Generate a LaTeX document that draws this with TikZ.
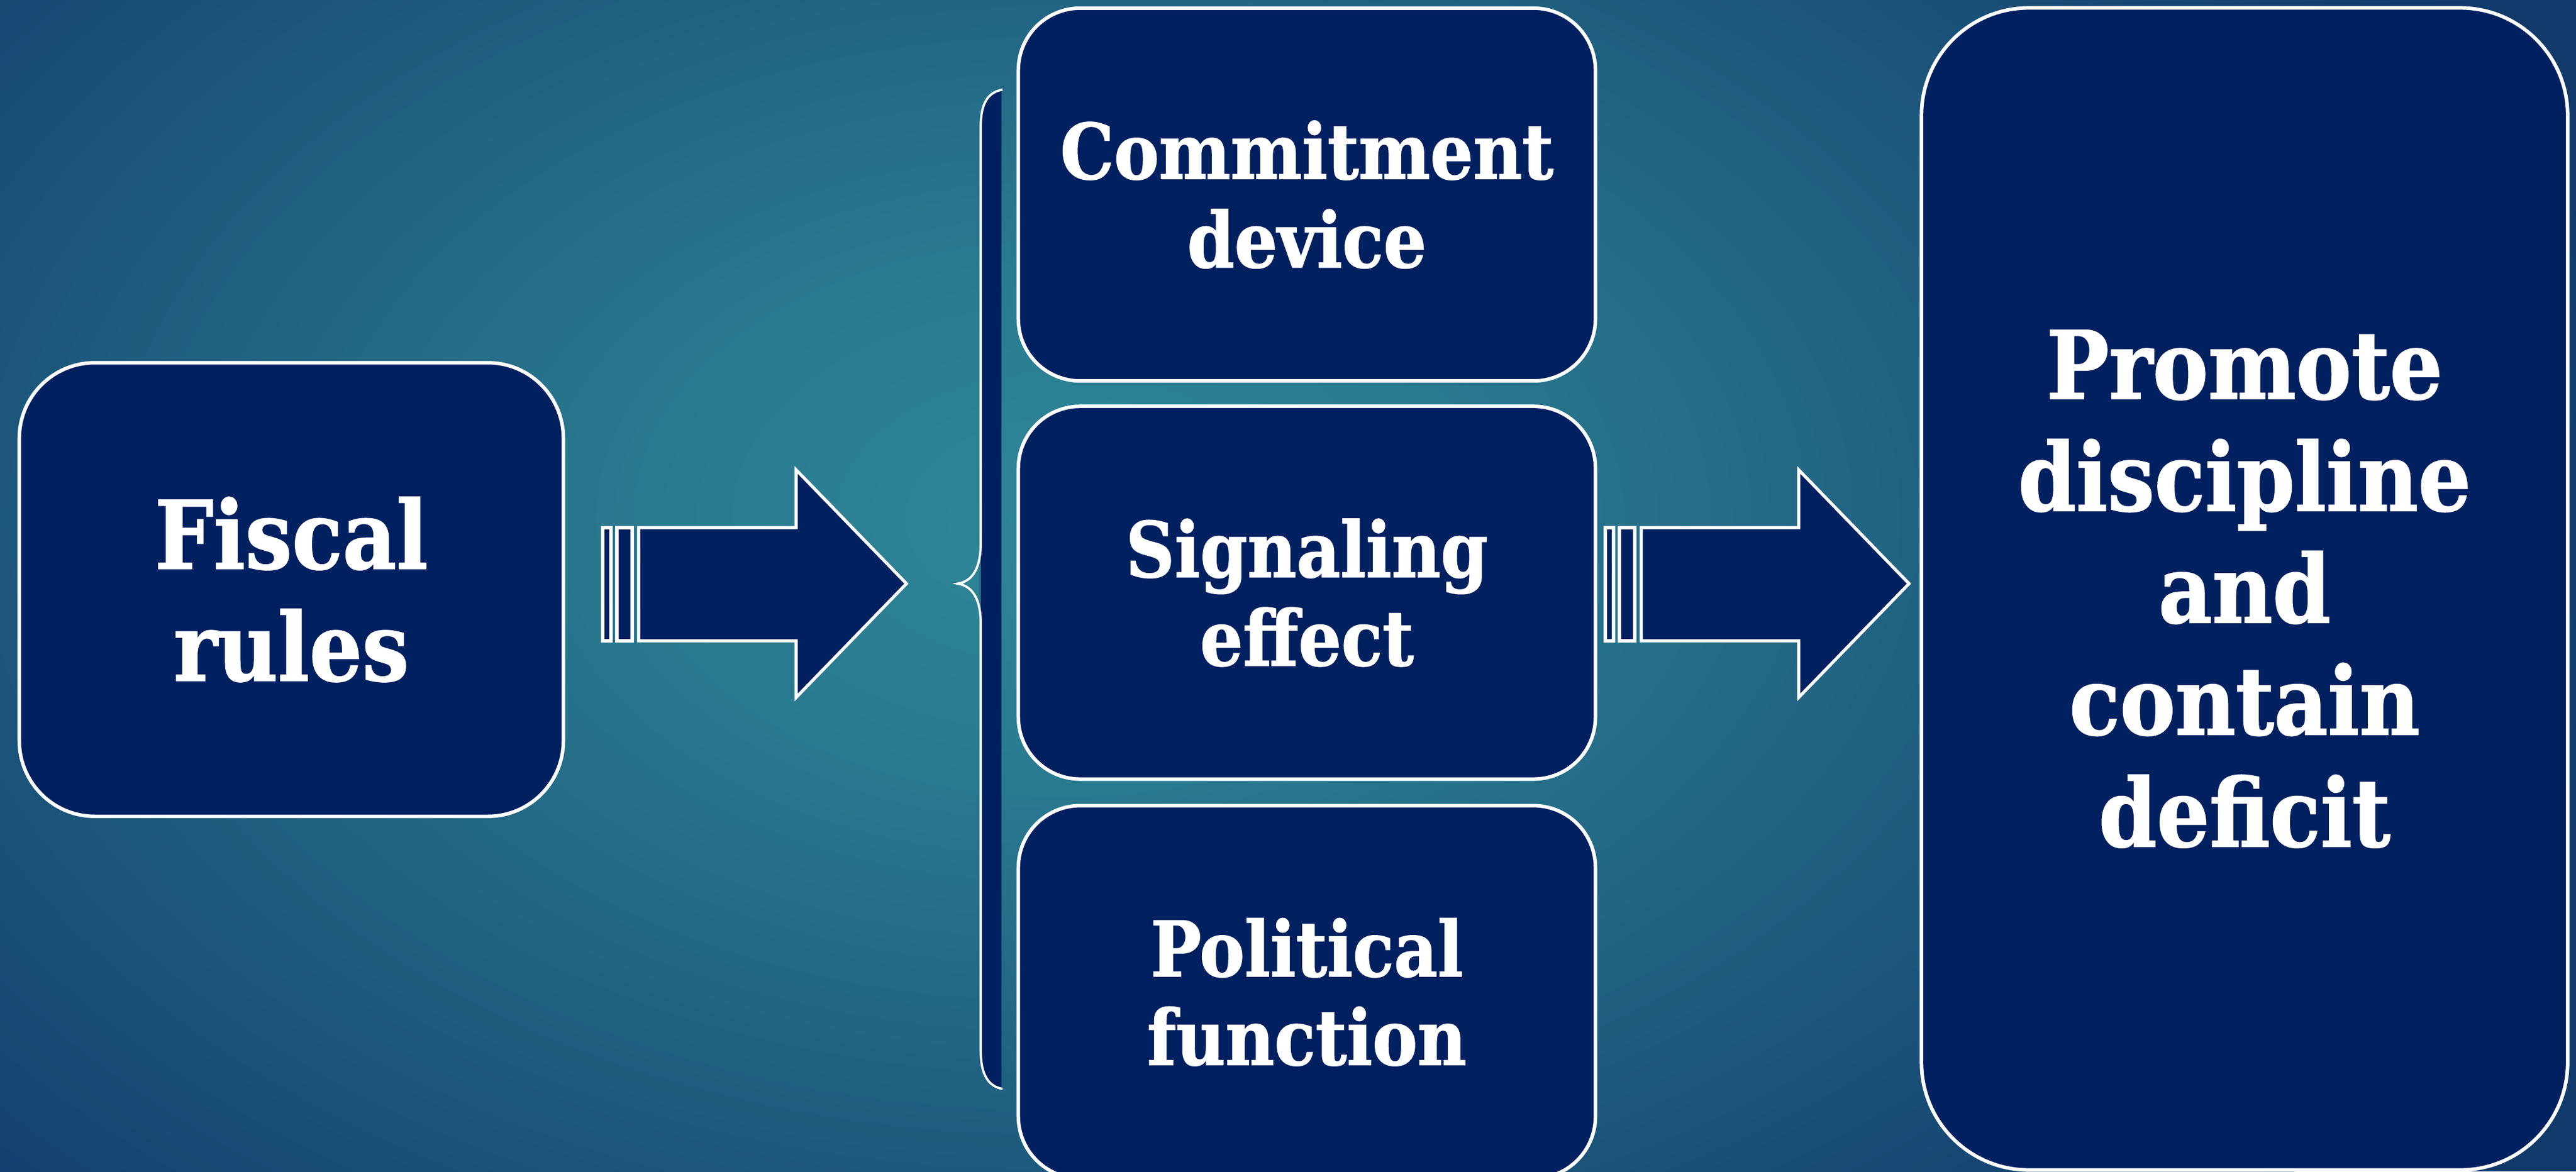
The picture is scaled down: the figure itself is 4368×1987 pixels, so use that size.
\documentclass[tikz,border=0pt]{standalone}
\usepackage{fontspec}
\setmainfont{DejaVu Serif}[FakeStretch=0.88, BoldFeatures={FakeBold=1.2}]
\usetikzlibrary{positioning}
\definecolor{navybox}{HTML}{002060}
\definecolor{glowmid}{HTML}{2F8697}
\definecolor{glowring}{HTML}{2A7B90}
\definecolor{glowedge}{HTML}{113A6B}
\pgfdeclareradialshading{slideglow}{\pgfpoint{0bp}{0bp}}{color(0bp)=(glowmid); color(6bp)=(glowring); color(25bp)=(glowedge); color(50bp)=(glowedge)}
\newcommand\bigtext{\fontsize{45.5}{54}\selectfont\bfseries}
\newcommand\midtext{\fontsize{37}{42.7}\selectfont\bfseries}

\begin{document}
\begin{tikzpicture}[x=0.01cm, y=-0.01cm,
    box/.style={draw=white, line width=1.7pt, fill=navybox, text=white,
                align=center, inner sep=0pt},
    midbox/.style={box, font=\midtext, minimum width=9.78cm,
                   minimum height=6.32cm, rounded corners=1.05cm},
    blockarrow/.style={draw=white, line width=1.5pt, fill=navybox}]
        % background
        \useasboundingbox (0,0) rectangle (4368,1987);
        \fill[glowedge] (0,0) rectangle (4368,1987);
        \begin{scope}
            \clip (0,0) rectangle (4368,1987);
            \shade[shading=slideglow] (1800,880) ellipse [x radius=2700, y radius=1750];
        \end{scope}

        % boxes
        \node[box, font=\bigtext, minimum width=9.22cm, minimum height=7.69cm,
              rounded corners=1.28cm] (fiscal) at (494,1000) {Fiscal\\rules};
        \node[midbox] (commit) at (2216,330) {Commitment\\device};
        \node[midbox, below=0.37cm of commit] (signal) {Signaling\\effect};
        \node[midbox, below=0.39cm of signal] (politic) {Political\\function};
        \node[box, font=\bigtext, minimum width=10.95cm, minimum height=19.70cm,
              rounded corners=1.82cm] (promote) at (3806,999)
              {Promote\\discipline\\and\\contain\\deficit};

        % brace
        \fill[navybox] (1698,152) .. controls (1671,157) and (1663,182) .. (1663,215)
              -- (1663,1782) .. controls (1663,1815) and (1671,1842) .. (1698,1847) -- cycle;
        \draw[white, line width=1.1pt] (1700,152) .. controls (1671,157) and (1663,182) .. (1663,215)
              -- (1663,921) .. controls (1663,962) and (1650,986) .. (1624,990)
              .. controls (1650,994) and (1663,1018) .. (1663,1058)
              -- (1663,1782) .. controls (1663,1815) and (1671,1842) .. (1700,1847);

        % arrows
        \foreach \ax in {0,1700} {
            \begin{scope}[shift={(\ax,0)}]
                \draw[blockarrow] (1022,895) rectangle (1036,1087);
                \draw[blockarrow] (1046,895) rectangle (1072,1087);
                \draw[blockarrow] (1083,895) -- (1350,895) -- (1350,797) -- (1537,990)
                      -- (1350,1183) -- (1350,1087) -- (1083,1087) -- cycle;
            \end{scope}
        }
    \end{tikzpicture}
\end{document}
